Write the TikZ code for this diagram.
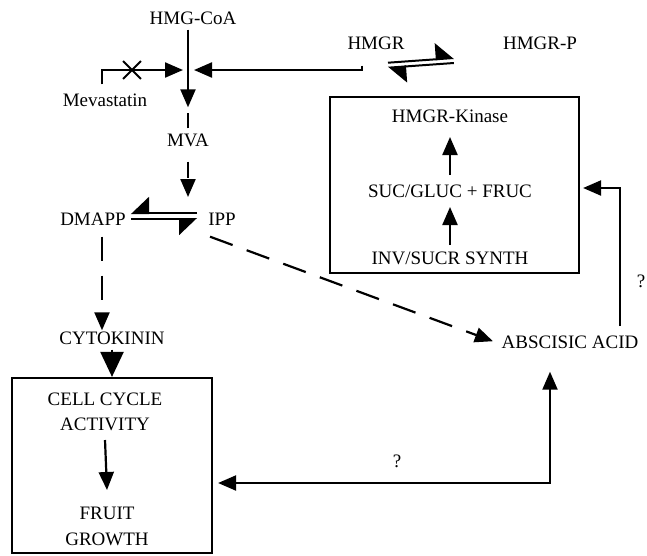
\documentclass[tikz,border=0pt]{standalone}
\usepackage{fontspec}
\setmainfont{Liberation Serif}
\usetikzlibrary{arrows.meta,shapes.misc,positioning}
\tikzset{
  lbl/.style={font=\fontsize{19}{25}\selectfont, inner sep=1pt, text height=13pt, text depth=4pt},
  flow/.style={line width=2.2pt, ->},
  dflow/.style={flow, dash pattern=on 24pt off 15pt},
  frame/.style={draw, line width=2.2pt, inner sep=0pt},
  eqtop/.style={line width=2pt, -{Triangle[harpoon,length=17pt,width=32pt]}},
  eqbot/.style={line width=2pt, -{Triangle[harpoon,swap,length=17pt,width=32pt]}}
}
\begin{document}
\begin{tikzpicture}[x=1pt,y=-1pt,>={Triangle[length=18pt,width=15pt]}]
\useasboundingbox (0,0) rectangle (647,555);
\node[lbl] (hmgcoa) at (193,20) {HMG-CoA};
\node[lbl] (mevastatin) at (105,102) {Mevastatin};
\node[lbl] (mva) at (188,142) {MVA};
\node[lbl] (hmgr) at (376,45) {HMGR};
\node[lbl] (hmgrp) at (540,45) {HMGR-P};
\node[lbl] (dmapp) at (93,221) {DMAPP};
\node[lbl] (ipp) at (222,221) {IPP};
\node[lbl] (cytokinin) at (112,340) {CYTOKININ};
\node[lbl] (aba) at (570,344) {ABSCISIC ACID};
\node[frame, minimum width=249pt, minimum height=176pt] (kinbox) at (454.5,185) {};
\node[lbl] (kinase) at (450,118) {HMGR-Kinase};
\node[lbl] (sucgluc) at (450,193) {SUC/GLUC + FRUC};
\node[lbl] (invsucr) at (450,260) {INV/SUCR SYNTH};
\node[frame, minimum width=200pt, minimum height=175pt] (cellbox) at (112,465.5) {};
\node[lbl] (cellcycle) at (105,401) {CELL CYCLE};
\node[lbl] (activity) at (105,426) {ACTIVITY};
\node[lbl] (fruit) at (107,515) {FRUIT};
\node[lbl] (growth) at (107,541) {GROWTH};
\node[lbl] (qlow) at (397,463) {?};
\node[lbl] (qright) at (641,283) {?};
\node[draw, cross out, line width=1.8pt, minimum size=16pt, inner sep=0pt] (block) at (132,70) {};
\coordinate (jn) at (188,70);
\coordinate (iso) at (188,197);

\draw[flow] (hmgcoa.south -| jn) -- ([yshift=25pt]jn |- mva.north);
\draw[line width=2.2pt] ([yshift=4pt]mva.north) -- ++(0,-15);
\draw[flow, shorten >=5pt] ([shift={(-3,-8)}]mevastatin.north) |- (jn);
\draw[flow, shorten >=6pt] ([shift={(-14,11)}]hmgr.south) |- (jn);
\draw[flow, dash pattern=on 16pt off 10pt] ([yshift=-10pt]mva.south) -- (iso);
\draw[eqtop] ([shift={(12,8)}]hmgr.south) -- ([shift={(-48,13)}]hmgrp.west);
\draw[eqtop] ([shift={(-48,18)}]hmgrp.west) -- ([shift={(12,13)}]hmgr.south);
\draw[eqbot] ([shift={(-10,-8)}]ipp.west) -- ([shift={(4,-8)}]dmapp.east);
\draw[eqbot] ([shift={(4,-2)}]dmapp.east) -- ([shift={(-10,-2)}]ipp.west);
\draw[dflow, shorten <=6pt] ([xshift=9pt]dmapp.south) -- ([xshift=-10pt]cytokinin.north);
\draw[dflow, shorten >=8pt] ([shift={(3,6)}]ipp.south west) -- (aba.west);
\draw[line width=2.2pt, -{Triangle[length=25pt,width=23pt]}] (cytokinin) -- (cellbox);
\draw[flow] ([yshift=-14pt]activity.center) -- ([yshift=25pt]fruit.center);
\draw[flow] ([yshift=18pt]sucgluc.center) -- ([yshift=-19pt]kinase.center);
\draw[flow] ([yshift=15pt]invsucr.center) -- ([yshift=-14pt]sucgluc.center);
\draw[flow, shorten >=3pt] ([shift={(50,-18)}]aba.center) |- ([yshift=-3pt]kinbox.east);
\draw[flow, <->, shorten <=5pt, shorten >=18pt] ([yshift=-17.5pt]cellbox.east) -| ([xshift=-20pt]aba.south);
\end{tikzpicture}
\end{document}
